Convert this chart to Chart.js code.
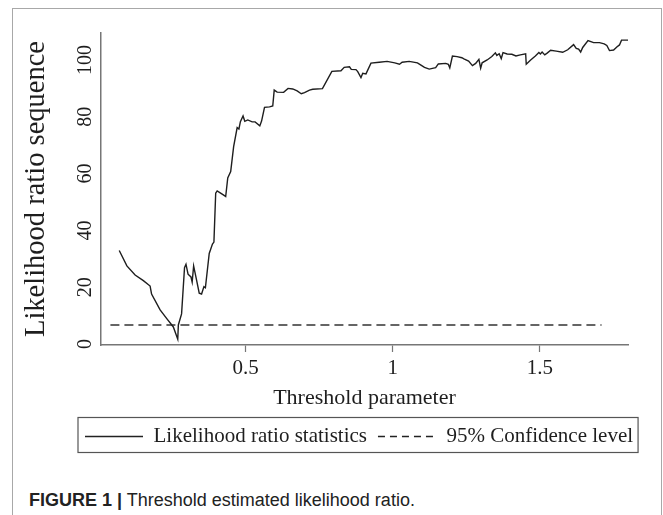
<!DOCTYPE html>
<html>
<head>
<meta charset="utf-8">
<script src="https://cdn.jsdelivr.net/npm/chart.js@4.4.0/dist/chart.umd.min.js"></script>
<style>
  html, body { margin: 0; padding: 0; background: #fff; }
  body { width: 663px; height: 515px; position: relative; overflow: hidden; }
  #frame { position: absolute; left: 12px; top: 8px; width: 648px; height: 530px; border: 1.5px solid #a8a8a8; border-bottom: none; }
  #wrap { position: absolute; left: 0; top: 0; width: 663px; height: 470px; }
  #caption { position: absolute; left: 29px; top: 489px; font: 18px "Liberation Sans", Arial, sans-serif; line-height: 22px; color: #222; white-space: nowrap; }
</style>
</head>
<body>
<div id="frame"></div>
<div id="wrap"><canvas id="lrChart" width="663" height="470"></canvas></div>
<div id="caption"><b>FIGURE 1 |</b> Threshold estimated likelihood ratio.</div>
<script>
// threshold parameter (x) and LR statistic (y)
const lrX = [0.070,0.096,0.124,0.152,0.175,0.180,0.209,0.231,0.254,0.269,
  0.271,0.282,0.292,0.297,0.304,0.314,0.318,0.323,0.333,0.342,
  0.350,0.358,0.363,0.376,0.387,0.392,0.398,0.403,0.412,0.424,
  0.432,0.439,0.449,0.459,0.471,0.477,0.482,0.491,0.497,0.507,
  0.522,0.532,0.548,0.554,0.564,0.581,0.592,0.597,0.607,0.629,
  0.644,0.660,0.675,0.689,0.700,0.717,0.728,0.761,0.793,0.824,
  0.835,0.853,0.859,0.875,0.881,0.892,0.898,0.909,0.926,0.954,
  0.981,1.007,1.023,1.032,1.056,1.084,1.096,1.108,1.124,1.146,
  1.155,1.180,1.189,1.194,1.203,1.219,1.235,1.242,1.258,1.271,
  1.282,1.293,1.299,1.304,1.321,1.337,1.349,1.354,1.362,1.369,
  1.375,1.389,1.405,1.419,1.434,1.452,1.454,1.469,1.485,1.497,
  1.502,1.508,1.517,1.525,1.537,1.556,1.578,1.595,1.615,1.624,
  1.632,1.639,1.646,1.664,1.683,1.703,1.719,1.728,1.737,1.751,
  1.762,1.771,1.778,1.800];
const lrY = [32.9,27.5,24.3,22.3,20.4,17.6,12.0,9.0,6.0,1.7,
  6.7,10.6,26.9,28.1,24.6,23.6,21.8,27.5,22.5,17.9,
  17.6,20.2,19.8,31.9,35.2,35.9,53.1,53.9,53.3,52.5,
  51.9,58.5,60.7,69.5,76.2,75.7,78.3,80.3,78.4,78.9,
  78.2,78.2,76.8,78.5,83.3,83.5,83.8,89.4,88.7,88.6,
  90.0,89.8,89.1,88.1,88.5,89.4,89.7,89.9,96.0,96.2,
  97.4,97.6,96.7,96.6,95.9,93.8,95.3,95.1,98.9,99.2,
  99.5,99.0,98.5,99.2,99.5,99.0,98.2,97.4,96.8,97.3,
  98.6,98.8,98.5,97.2,101.4,101.2,100.8,100.4,99.6,98.0,
  98.8,100.2,97.1,99.0,100.0,101.2,102.5,101.6,102.2,100.5,
  102.6,102.1,102.0,101.4,101.8,102.2,98.5,100.0,101.4,102.6,
  102.1,102.8,101.8,102.4,103.4,103.1,102.7,103.6,105.4,104.1,
  103.8,102.8,104.4,106.8,106.1,106.1,105.7,105.1,103.3,103.5,
  104.6,105.3,107.0,107.0];

// 95% confidence level (flat line)
const confX = [0.040, 1.710];
const confY = [6.7, 6.7];

const xTicks = [0.5, 1, 1.5];
const yTicks = [0, 20, 40, 60, 80, 100];
const seriesNames = ['Likelihood ratio statistics', '95% Confidence level'];

const serif = '"Liberation Serif", "Times New Roman", serif';
const ink = '#1e1e1e';
const axisGray = '#767676';
const legPad = 11;
const legFont = 21;

// puts the legend where the figure has it and draws its box
const legendFrame = {
  id: 'legendFrame',
  afterUpdate(chart) {
    const lg = chart.legend;
    const w = lg.right - lg.left;
    lg.left = 74;
    lg.right = lg.left + w;
    lg.adjustHitBoxes();
  },
  afterDraw(chart) {
    const lg = chart.legend;
    if (!lg || !lg.lineWidths) return;
    const x0 = lg.left + legPad - 7;
    const w = lg.lineWidths[0] - legPad + 12;
    const cy = lg.top + legPad + legFont / 2;
    const ctx = chart.ctx;
    ctx.save();
    ctx.setLineDash([]);
    ctx.strokeStyle = '#555';
    ctx.lineWidth = 1.2;
    ctx.strokeRect(x0, cy - 19, w, 35);
    ctx.restore();
  }
};

new Chart(document.getElementById('lrChart'), {
  type: 'line',
  data: {
    datasets: [
      {
        label: seriesNames[0],
        data: lrX.map((x, i) => ({ x: x, y: lrY[i] })),
        borderColor: ink,
        borderWidth: 1.4,
        pointRadius: 0,
        tension: 0
      },
      {
        label: seriesNames[1],
        data: confX.map((x, i) => ({ x: x, y: confY[i] })),
        borderColor: '#333',
        borderWidth: 1.4,
        borderDash: [9, 5],
        pointRadius: 0
      }
    ]
  },
  options: {
    responsive: false,
    animation: false,
    devicePixelRatio: 1,
    layout: { padding: { left: 0, right: 35, top: 33, bottom: 13 } },
    plugins: {
      tooltip: { enabled: false },
      legend: {
        position: 'bottom',
        align: 'start',
        labels: {
          usePointStyle: true,
          pointStyle: 'line',
          pointStyleWidth: 58,
          padding: legPad,
          color: ink,
          font: { family: serif, size: legFont },
          generateLabels(chart) {
            const items = Chart.defaults.plugins.legend.labels.generateLabels(chart);
            items.forEach((it, i) => {
              it.lineDash = chart.data.datasets[i].borderDash ? [7, 5] : [];
              it.lineWidth = 1.3;
              it.strokeStyle = '#222';
            });
            return items;
          }
        }
      }
    },
    scales: {
      x: {
        type: 'linear',
        min: 0.008,
        max: 1.80,
        afterBuildTicks: s => { s.ticks = xTicks.map(v => ({ value: v })); },
        afterFit: s => { s.height = 70; },
        ticks: {
          color: ink,
          padding: 4,
          maxRotation: 0,
          font: { family: serif, size: 21 },
          callback: v => String(v)
        },
        grid: { drawOnChartArea: false, tickLength: 7, color: axisGray, tickWidth: 1.2 },
        border: { color: axisGray, width: 1.5 },
        title: {
          display: true,
          text: 'Threshold parameter',
          color: ink,
          font: { family: serif, size: 22 },
          padding: { top: 0, bottom: 4 }
        }
      },
      y: {
        type: 'linear',
        min: -0.35,
        max: 109.5,
        afterBuildTicks: s => { s.ticks = yTicks.map(v => ({ value: v })); },
        afterFit: s => { s.width = 101; },
        ticks: {
          color: ink,
          minRotation: 90,
          maxRotation: 90,
          crossAlign: 'center',
          padding: 0,
          font: { family: serif, size: 20 }
        },
        grid: { drawOnChartArea: false, drawTicks: false },
        border: { color: axisGray, width: 1.5 },
        title: {
          display: true,
          text: 'Likelihood ratio sequence',
          color: ink,
          font: { family: serif, size: 28.5 },
          padding: { top: 19, bottom: 0 }
        }
      }
    }
  },
  plugins: [legendFrame]
});
</script>
</body>
</html>
